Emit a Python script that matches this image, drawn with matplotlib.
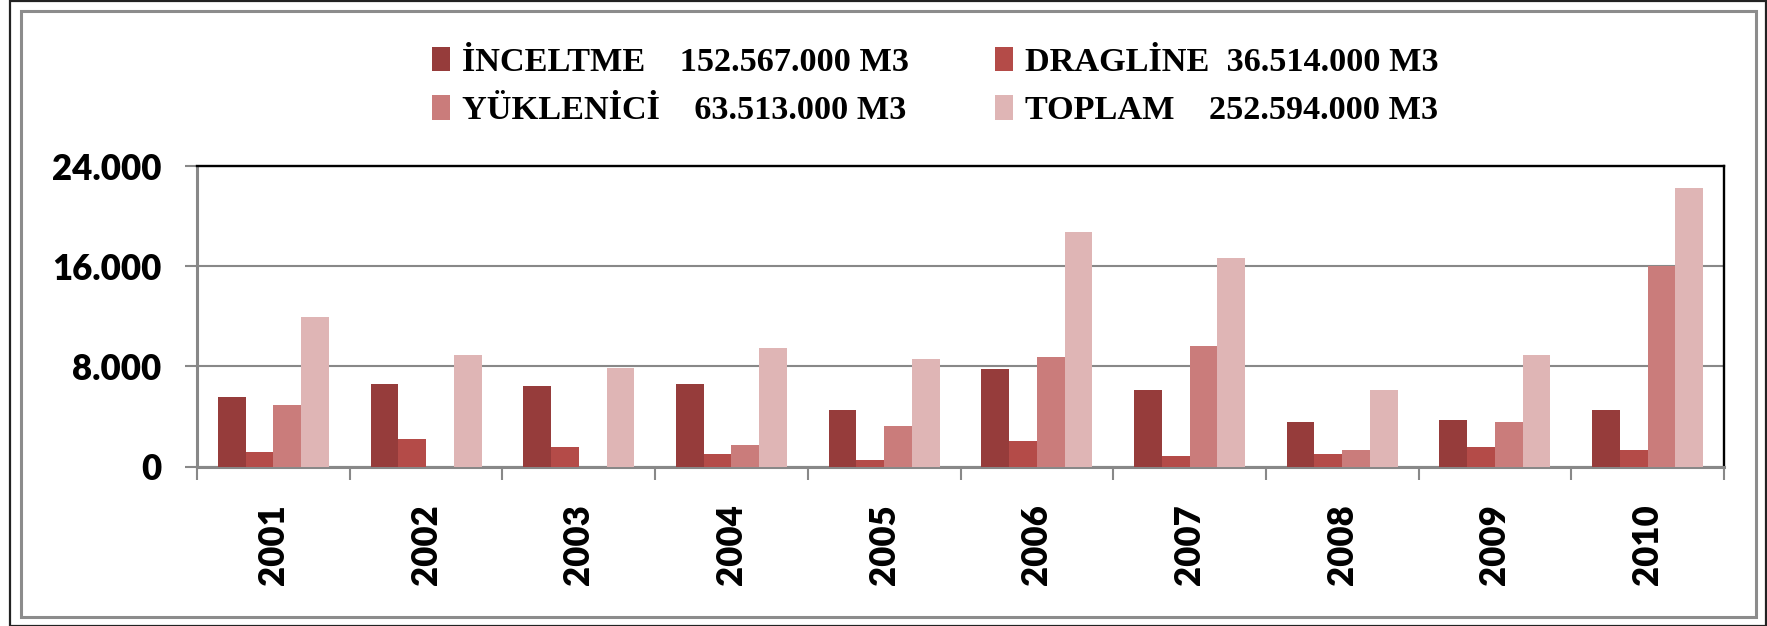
import matplotlib
matplotlib.use("Agg")
import matplotlib.pyplot as plt
import numpy as np
from matplotlib.patches import Patch, Rectangle
from matplotlib.ticker import FuncFormatter, FixedLocator

# yillara gore uretim (bin m3 gosterimi noktali)
yillar = ["2001", "2002", "2003", "2004", "2005", "2006", "2007", "2008", "2009", "2010"]
inceltme = [5560, 6600, 6440, 6600, 4520, 7800, 6120, 3570, 3730, 4520]
dragline = [1170, 2210, 1570, 1010, 530, 2050, 850, 1010, 1570, 1330]
yuklenici = [4920, 0, 0, 1730, 3250, 8750, 9630, 1330, 3570, 16020]
toplam = [11950, 8910, 7900, 9470, 8600, 18730, 16660, 6120, 8910, 22240]

seri_adlari = [
    "İNCELTME    152.567.000 M3",
    "DRAGLİNE  36.514.000 M3",
    "YÜKLENİCİ    63.513.000 M3",
    "TOPLAM    252.594.000 M3",
]
renkler = ["#963C3B", "#B44B48", "#CA7C7B", "#DFB5B5"]
y_ticks = [0, 8000, 16000, 24000]

GRI = "#888888"

fig = plt.figure(figsize=(17.67, 6.26), dpi=100)
ax = fig.add_axes([197 / 1767, 1 - 466.7 / 626, (1724 - 197) / 1767, (466.7 - 166) / 626])

seriler = [inceltme, dragline, yuklenici, toplam]
x = np.arange(len(yillar))
w = 1 / 5.5
for i, (vals, renk) in enumerate(zip(seriler, renkler)):
    ax.bar(x + (i - 1.5) * w, vals, width=w, color=renk, zorder=3, linewidth=0)

ax.set_xlim(-0.5, len(yillar) - 0.5)
ax.set_ylim(0, 24000)

ax.yaxis.set_major_locator(FixedLocator(y_ticks))
ax.yaxis.set_major_formatter(FuncFormatter(lambda v, _: f"{int(v):,}".replace(",", ".")))
ax.grid(axis="y", color=GRI, linewidth=1.5, zorder=1)

# kategori sinirlarinda tik, etiketler ortada
ax.set_xticks(x)
ax.set_xticklabels(yillar, rotation=90)
ax.set_xticks(np.arange(len(yillar) + 1) - 0.5, minor=True)
ax.tick_params(axis="x", which="major", length=0, pad=27)
ax.tick_params(axis="x", which="minor", length=9.5, width=1.5, color=GRI, direction="out")
ax.tick_params(axis="y", length=8.5, width=1.5, color=GRI, pad=17)

for lab in ax.get_xticklabels() + ax.get_yticklabels():
    lab.set_fontfamily("Lato")
    lab.set_fontweight("heavy")
    lab.set_fontsize(25)

for side in ("left", "bottom"):
    ax.spines[side].set_color(GRI)
    ax.spines[side].set_linewidth(2.2)
for side in ("top", "right"):
    ax.spines[side].set_color("black")
    ax.spines[side].set_linewidth(1.7)

# lejant: iki satir, iki sutun
tutamaclar = [Patch(facecolor=r, edgecolor="none") for r in renkler]
sira = [0, 2, 1, 3]
leg = fig.legend([tutamaclar[k] for k in sira], [seri_adlari[k] for k in sira],
                 ncol=2, loc="upper left", bbox_to_anchor=(401 / 1767, 1 - 16 / 626),
                 frameon=False, handlelength=0.52, handleheight=0.72, handletextpad=0.35,
                 columnspacing=2.52, labelspacing=0.5,
                 prop={"family": "Liberation Serif", "weight": "bold", "size": 24.7})

# grafik cercevesi
fig.patches.append(Rectangle((9.5 / 1767, 0.5 / 626), (1766 - 9.5) / 1767, (625 - 0.5) / 626,
                             transform=fig.transFigure, fill=False, edgecolor="#222222",
                             linewidth=1.6, zorder=0))
fig.patches.append(Rectangle((20.5 / 1767, 1 - 616.5 / 626), (1755.5 - 20.5) / 1767, (616.5 - 10.5) / 626,
                             transform=fig.transFigure, fill=False, edgecolor="#8C8C8C",
                             linewidth=2.2, zorder=0))

fig.savefig("out.png", dpi=100)
